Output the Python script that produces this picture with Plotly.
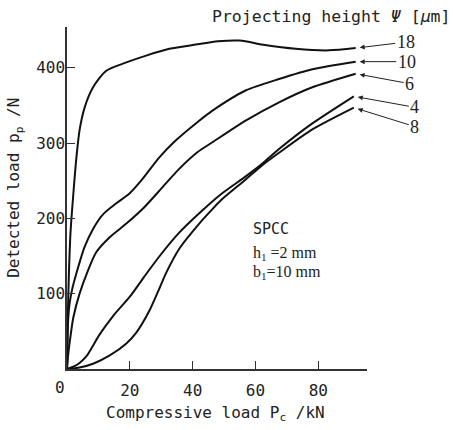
import plotly.graph_objects as go

# ---- data ----
x18 = [0, 0.15, 0.35, 0.6, 1.1, 2.1, 3.0, 4.0, 5.6, 8.3, 12.5, 18.9, 25.2, 32.6, 41.6, 48, 55, 63, 72.8, 83.4, 91.9]
y18 = [0, 40, 85, 125, 180, 237, 281, 317, 347, 374, 396, 407, 416, 425, 431, 435, 436, 430, 425, 423, 426]

x10 = [0, 0.1, 0.3, 0.8, 1.6, 3.0, 5.6, 8.3, 11.4, 15.7, 19.9, 23.6, 29.4, 34.5, 41.6, 46.3, 57, 67.5, 78.1, 91.9]
y10 = [0, 30, 60, 86, 105, 127, 162, 186, 205, 220, 233, 250, 281, 303, 328, 343, 370, 385, 398, 408]

x6 = [0, 0.4, 1.0, 2.0, 4.0, 6.7, 9.3, 13.6, 18.9, 24.2, 28.4, 31.6, 35.8, 41.6, 46.3, 57, 67.5, 78.1, 91.9]
y6 = [0, 20, 40, 68, 100, 131, 155, 175, 193, 213, 232, 247, 266, 288, 301, 330, 354, 374, 392]

x4 = [0, 2, 4, 6.2, 10.4, 14.6, 20, 24.5, 29.5, 35.5, 42.7, 49, 57, 62, 67.5, 78.1, 91.3]
y4 = [0, 3, 8, 17, 46, 70, 96, 122, 150, 180, 209, 232, 256, 272, 292, 326, 362]

x8 = [0, 4, 8.3, 13.6, 18.9, 22, 26.3, 29, 31.6, 35.8, 42.1, 45.8, 49, 57, 62, 67.5, 78.1, 91.3]
y8 = [0, 2, 7, 18, 34, 48, 78, 103, 128, 160, 193, 210, 224, 252, 270, 287, 318, 347]

series = [("18", x18, y18, 50, -6),
          ("10", x10, y10, 51, 0),
          ("6", x6, y6, 54, 10),
          ("4", x4, y4, 61, 11),
          ("8", x8, y8, 61, 19)]

x_ticks = [20, 40, 60, 80]
y_ticks = [100, 200, 300, 400]

MONO = "DejaVu Sans Mono"
SERIF = "Liberation Serif"

fig = go.Figure()
for name, xs, ys, ax, ay in series:
    fig.add_trace(go.Scatter(x=xs, y=ys, mode="lines", name=name,
                             line=dict(color="#111111", width=2, shape="spline", smoothing=0.7),
                             showlegend=False, hoverinfo="skip"))

annotations = []
for name, xs, ys, ax, ay in series:
    annotations.append(dict(x=xs[-1], y=ys[-1], xref="x", yref="y", text=name,
                            showarrow=True, arrowhead=2, arrowsize=1, arrowwidth=1,
                            arrowcolor="#222", standoff=4, ax=ax, ay=ay,
                            font=dict(family=SERIF, size=18, color="#222")))

# x=0 tick label (shifted left as in reference)
annotations.append(dict(x=0, y=0, xref="x", yref="y", text="0", showarrow=False,
                        xshift=-7, yshift=-18, font=dict(family=MONO, size=16, color="#222")))

# top-right header
annotations.append(dict(x=1.283, y=1.03, xref="paper", yref="paper", xanchor="right", yanchor="middle",
                        text="Projecting height <i>Ψ</i> [<i>μ</i>m]", showarrow=False,
                        font=dict(family=MONO, size=16.5, color="#222")))

# axis titles
annotations.append(dict(x=-0.173, y=0.53, xref="paper", yref="paper", xanchor="center", yanchor="middle",
                        text="Detected load p<sub>p</sub> /N", textangle=-90, showarrow=False,
                        font=dict(family=MONO, size=16, color="#222")))
annotations.append(dict(x=0.495, y=-0.13, xref="paper", yref="paper", xanchor="center", yanchor="middle",
                        text="Compressive load P<sub>c</sub> /kN", showarrow=False,
                        font=dict(family=MONO, size=16, color="#222")))

# material note
annotations.append(dict(x=0.614, y=0.41, xref="paper", yref="paper", xanchor="left", yanchor="middle",
                        text="SPCC", showarrow=False, font=dict(family=MONO, size=15, color="#222")))
annotations.append(dict(x=0.614, y=0.339, xref="paper", yref="paper", xanchor="left", yanchor="middle",
                        text="h<sub>1</sub> =2 mm", showarrow=False, font=dict(family=SERIF, size=16, color="#222")))
annotations.append(dict(x=0.614, y=0.281, xref="paper", yref="paper", xanchor="left", yanchor="middle",
                        text="b<sub>1</sub>=10 mm", showarrow=False, font=dict(family=SERIF, size=16, color="#222")))

fig.update_layout(
    width=453, height=430,
    margin=dict(l=67, r=86, t=27, b=61),
    paper_bgcolor="white", plot_bgcolor="white",
    annotations=annotations,
    xaxis=dict(range=[0, 95.5], tickvals=x_ticks, ticks="inside", ticklen=8, tickwidth=1,
               tickcolor="#333", showline=True, linecolor="#333", linewidth=1.5,
               showgrid=False, zeroline=False, ticklabelstandoff=6,
               tickfont=dict(family=MONO, size=16, color="#222")),
    yaxis=dict(range=[0, 454], tickvals=y_ticks, ticks="inside", ticklen=8, tickwidth=1,
               tickcolor="#333", showline=True, linecolor="#333", linewidth=1.5,
               showgrid=False, zeroline=False, ticklabelstandoff=-3,
               tickfont=dict(family=MONO, size=16, color="#222")),
)

fig.write_html("out.html")
